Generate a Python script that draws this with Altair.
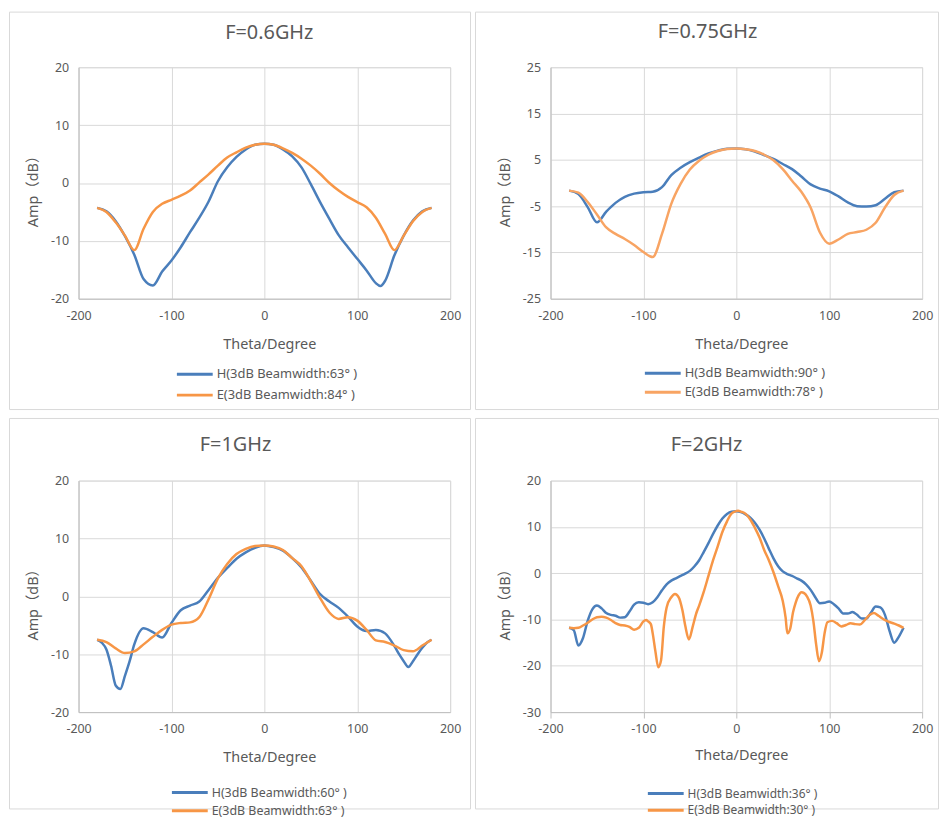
import altair as alt
import pandas as pd

FONT = "Noto Sans, Noto Sans CJK SC"
TXT = "#595959"
GRID = "#D9D9D9"
AXIS = "#BFBFBF"
BLUE = "#4A7EBB"
ORANGE = "#F79646"

# ---------------- data ----------------
T10 = list(range(-180, 181, 10))

# F=0.6GHz
p1_theta_h = [-180, -170, -160, -150, -140, -130, -120, -110, -100, -90, -80, -70, -60, -50, -40, -30, -20, -10, 0,
              10, 20, 30, 40, 50, 60, 70, 80, 90, 100, 110, 120, 125, 130, 140, 150, 160, 170, 180]
p1_h = [-4.3, -4.9, -6.6, -9.2, -12.4, -16.6, -17.7, -15.3, -13.4, -11.1, -8.5, -6.0, -3.2, 0.3, 2.7, 4.5, 5.8, 6.6, 6.8,
        6.6, 5.8, 4.6, 2.7, -0.2, -3.3, -6.2, -9.0, -11.1, -13.1, -15.1, -17.3, -17.8, -16.9, -12.5, -9.1, -6.5, -4.9,
        -4.3]
p1_theta_e = T10
p1_e = [-4.3, -5.0, -6.8, -9.1, -11.6, -7.9, -5.0, -3.6, -2.9, -2.2, -1.3, 0.1, 1.5, 3.0, 4.4, 5.3, 6.1, 6.6, 6.8,
        6.6, 6.0, 5.2, 4.2, 3.0, 1.6, 0.0, -1.3, -2.4, -3.3, -4.2, -6.0, -8.8, -11.6, -9.1, -6.6, -5.0, -4.3]

# F=0.75GHz
p2_theta = T10
p2_h = [-1.65, -2.4, -5.2, -8.5, -6.2, -4.3, -3.0, -2.3, -2.0, -1.9, -0.9, 1.7, 3.3, 4.5, 5.5, 6.4, 7.0, 7.4, 7.45,
        7.3, 6.8, 6.0, 5.2, 4.1, 3.0, 1.4, -0.3, -1.2, -1.8, -2.9, -4.2, -5.0, -5.1, -4.8, -3.4, -2.0, -1.65]
p2_e = [-1.65, -2.1, -4.1, -6.8, -9.6, -11.0, -12.1, -13.4, -14.9, -16.0, -11.0, -4.5, -0.2, 2.9, 4.8, 6.1, 6.9, 7.35, 7.45,
        7.3, 6.9, 6.1, 4.9, 3.0, 0.5, -1.9, -5.3, -10.7, -13.1, -12.2, -11.0, -10.6, -10.1, -8.6, -5.3, -2.6, -1.65]

# F=1GHz
p3_theta_h = [-180, -175, -170, -165, -160, -155, -150, -145, -140, -130, -120, -110, -100, -90, -80, -70, -60, -50, -40,
              -30, -20, -10, 0, 10, 20, 30, 40, 50, 60, 70, 80, 90, 100, 110, 120, 130, 140, 145, 150, 155, 160, 165,
              170, 175, 180]
p3_h = [-7.5, -8.0, -9.2, -12.0, -15.4, -16.0, -13.7, -11.2, -8.3, -5.5, -6.2, -7.1, -4.6, -2.4, -1.6, -0.9, 1.1, 3.2,
        4.9, 6.5, 7.6, 8.4, 8.8, 8.5, 7.9, 6.6, 5.0, 2.7, 0.4, -0.9, -2.0, -3.5, -5.2, -6.0, -5.8, -6.4, -8.6, -10.0,
        -11.2, -12.2, -11.2, -10.0, -8.9, -8.0, -7.5]
p3_theta_e = T10
p3_e = [-7.5, -7.9, -9.0, -9.8, -9.5, -8.3, -7.0, -5.8, -4.9, -4.6, -4.5, -3.6, -0.5, 3.1, 5.6, 7.3, 8.2, 8.7, 8.8,
        8.6, 8.0, 6.6, 5.2, 2.6, -0.3, -2.8, -3.9, -3.6, -4.2, -5.8, -7.6, -7.9, -8.5, -9.3, -9.5, -8.5, -7.5]

# F=2GHz
p4_theta_h = list(range(-180, 181, 5))
p4_h = [-11.8, -12.3, -15.6, -14.0, -10.3, -7.8, -7.0, -7.6, -8.6, -9.0, -9.2, -9.6, -9.5, -8.3, -6.8, -6.3, -6.4,
        -6.7, -6.3, -5.2, -3.7, -2.4, -1.6, -1.1, -0.6, -0.1, 0.5, 1.5, 2.8, 4.6, 6.5, 8.5, 10.3, 11.8, 12.8, 13.3,
        13.4, 13.2, 12.7, 12.0, 10.9, 9.4, 7.5, 5.3, 3.2, 1.5, 0.4, -0.2, -0.6, -1.1, -1.6, -2.4, -3.6, -5.2, -6.5,
        -6.4, -6.1, -6.7, -7.6, -8.7, -8.7, -8.4, -9.0, -9.8, -9.8, -8.5, -7.2, -7.4, -9.0, -12.5, -15.0, -13.7, -11.8]
p4_theta_e = [-180, -175, -170, -165, -160, -155, -150, -145, -140, -135, -130, -125, -120, -115, -110, -105, -100,
              -97, -95, -92, -90, -87, -84, -81, -78, -75, -70, -66, -62, -58, -55, -51, -47, -43, -40, -35, -30, -25,
              -20, -15, -10, -5, 0, 2, 5, 10, 15, 20, 25, 30, 35, 40, 45, 50, 53, 55, 58, 61, 64, 67, 70, 73, 76, 80,
              83, 86, 89, 92, 95, 98, 103, 108, 113, 118, 123, 128, 133, 138, 143, 148, 153, 158, 163, 170, 175, 180]
p4_e = [-11.8, -11.9, -11.8, -11.3, -10.7, -10.0, -9.5, -9.4, -9.6, -10.1, -10.8, -11.2, -11.3, -11.6, -12.2, -11.8,
        -10.4, -10.1, -10.4, -11.0, -13.0, -17.0, -20.3, -18.8, -11.5, -7.4, -5.2, -4.5, -5.2, -8.0, -11.3, -14.3,
        -11.6, -8.6, -7.0, -4.0, -0.6, 2.8, 5.8, 8.9, 11.2, 12.9, 13.4, 13.5, 13.3, 12.8, 11.6, 9.8, 7.7, 5.0, 2.8,
        0.2, -2.8, -6.0, -9.5, -13.0, -12.0, -8.5, -6.3, -4.8, -4.1, -4.3, -5.0, -7.0, -10.4, -15.5, -19.0, -17.2,
        -13.0, -10.6, -10.3, -10.8, -11.5, -11.2, -10.8, -11.0, -11.1, -10.2, -9.1, -8.6, -9.2, -9.9, -10.4, -10.9,
        -11.3, -11.8]

titles = ["F=0.6GHz", "F=0.75GHz", "F=1GHz", "F=2GHz"]
labels_h = ["H(3dB Beamwidth:63°  )", "H(3dB Beamwidth:90°  )", "H(3dB Beamwidth:60°  )", "H(3dB Beamwidth:36°  )"]
labels_e = ["E(3dB Beamwidth:84°  )", "E(3dB Beamwidth:78°  )", "E(3dB Beamwidth:63°  )", "E(3dB Beamwidth:30°  )"]
y_domains = [[-20, 20], [-25, 25], [-20, 20], [-30, 20]]
y_ticks = [[-20, -10, 0, 10, 20], [-25, -15, -5, 5, 15, 25], [-20, -10, 0, 10, 20], [-30, -20, -10, 0, 10, 20]]
x_ticks = [-200, -100, 0, 100, 200]

series = [
    (p1_theta_h, p1_h, p1_theta_e, p1_e),
    (p2_theta, p2_h, p2_theta, p2_e),
    (p3_theta_h, p3_h, p3_theta_e, p3_e),
    (p4_theta_h, p4_h, p4_theta_e, p4_e),
]

W, H = 374, 233

# per-panel layout tweaks (pixels, relative to the plot area)
frames = [(-70, 394, -56, 344), (-76, 390, -56, 344), (-70, 394, -63, 330), (-76, 390, -63, 330)]
title_pos = [(192, -28), (158, -29), (158, -30), (157, -30)]
# legendX, legendY, rowPadding, label font size
legend_pos = [(97, 302, 7, 13), (93, 301, 5, 13), (92, 307, 4.3, 12.5), (96, 308, 2.7, 12)]
xtitle_y = [50, 50, 49.5, 47.5]
orange_cols = [ORANGE, "#F8A463", ORANGE, ORANGE]


def panel(i):
    th_h, v_h, th_e, v_e = series[i]
    df = pd.DataFrame({
        "theta": list(th_h) + list(th_e),
        "amp": list(v_h) + list(v_e),
        "series": [labels_h[i]] * len(th_h) + [labels_e[i]] * len(th_e),
    })
    ticks = i == 3
    lx, ly, lpad, lfs = legend_pos[i]
    lines = alt.Chart(df).mark_line(interpolate="monotone", strokeWidth=2.5).encode(
        x=alt.X("theta:Q", scale=alt.Scale(domain=[-200, 200], nice=False),
                axis=alt.Axis(values=x_ticks, title="Theta/Degree", grid=True, gridColor=GRID,
                              domainColor=AXIS, ticks=ticks, tickColor=AXIS, tickSize=6,
                              labelPadding=5 if ticks else 11, labelFlush=False,
                              labelExpr="datum.value + ''", labelFontSize=12.5, labelColor=TXT, labelFont=FONT,
                              titleFontSize=14.5, titleColor=TXT, titleFont=FONT, titleFontWeight="normal",
                              titleX=192, titleY=xtitle_y[i], titleBaseline="alphabetic")),
        y=alt.Y("amp:Q", scale=alt.Scale(domain=y_domains[i], nice=False, zero=False),
                axis=alt.Axis(values=y_ticks[i], title="Amp（dB）", grid=True, gridColor=GRID,
                              domainColor=AXIS, ticks=False, labelPadding=10, labelFlush=False,
                              labelExpr="datum.value + ''", labelFontSize=12.5, labelColor=TXT, labelFont=FONT,
                              titleFontSize=14.5, titleColor=TXT, titleFont=FONT, titleFontWeight="normal",
                              titleX=-45, titleY=121, titleBaseline="middle")),
        color=alt.Color("series:N",
                        scale=alt.Scale(domain=[labels_h[i], labels_e[i]], range=[BLUE, orange_cols[i]]),
                        legend=alt.Legend(orient="none", legendX=lx, legendY=ly,
                                          title=None, symbolType="stroke", symbolSize=1300,
                                          symbolStrokeWidth=3, clipHeight=14, rowPadding=lpad,
                                          labelOffset=2, labelFontSize=lfs, labelColor=TXT, labelFont=FONT,
                                          padding=0)),
    )
    one = pd.DataFrame({"k": [0]})
    fx1, fx2, fy1, fy2 = frames[i]
    frame = alt.Chart(one).mark_rect(fillOpacity=0, stroke=GRID, strokeWidth=1).encode(
        x=alt.value(fx1 + 0.5), x2=alt.value(fx2 + 0.5), y=alt.value(fy1 + 0.5), y2=alt.value(fy2 + 0.5))
    title = alt.Chart(one).mark_text(align="center", baseline="alphabetic", fontSize=20, color=TXT,
                                     font=FONT).encode(
        x=alt.value(title_pos[i][0]), y=alt.value(title_pos[i][1]), text=alt.value(titles[i]))
    return alt.layer(frame, lines, title).properties(width=W, height=H)


chart = alt.concat(panel(0), panel(1), panel(2), panel(3), columns=2,
                   spacing={"row": 183, "column": 101}, bounds="flush").resolve_scale(
    color="independent").properties(padding=0).configure_view(strokeWidth=0).configure(font=FONT)

chart.save("out.html", embed_options={"renderer": "svg", "actions": False})
